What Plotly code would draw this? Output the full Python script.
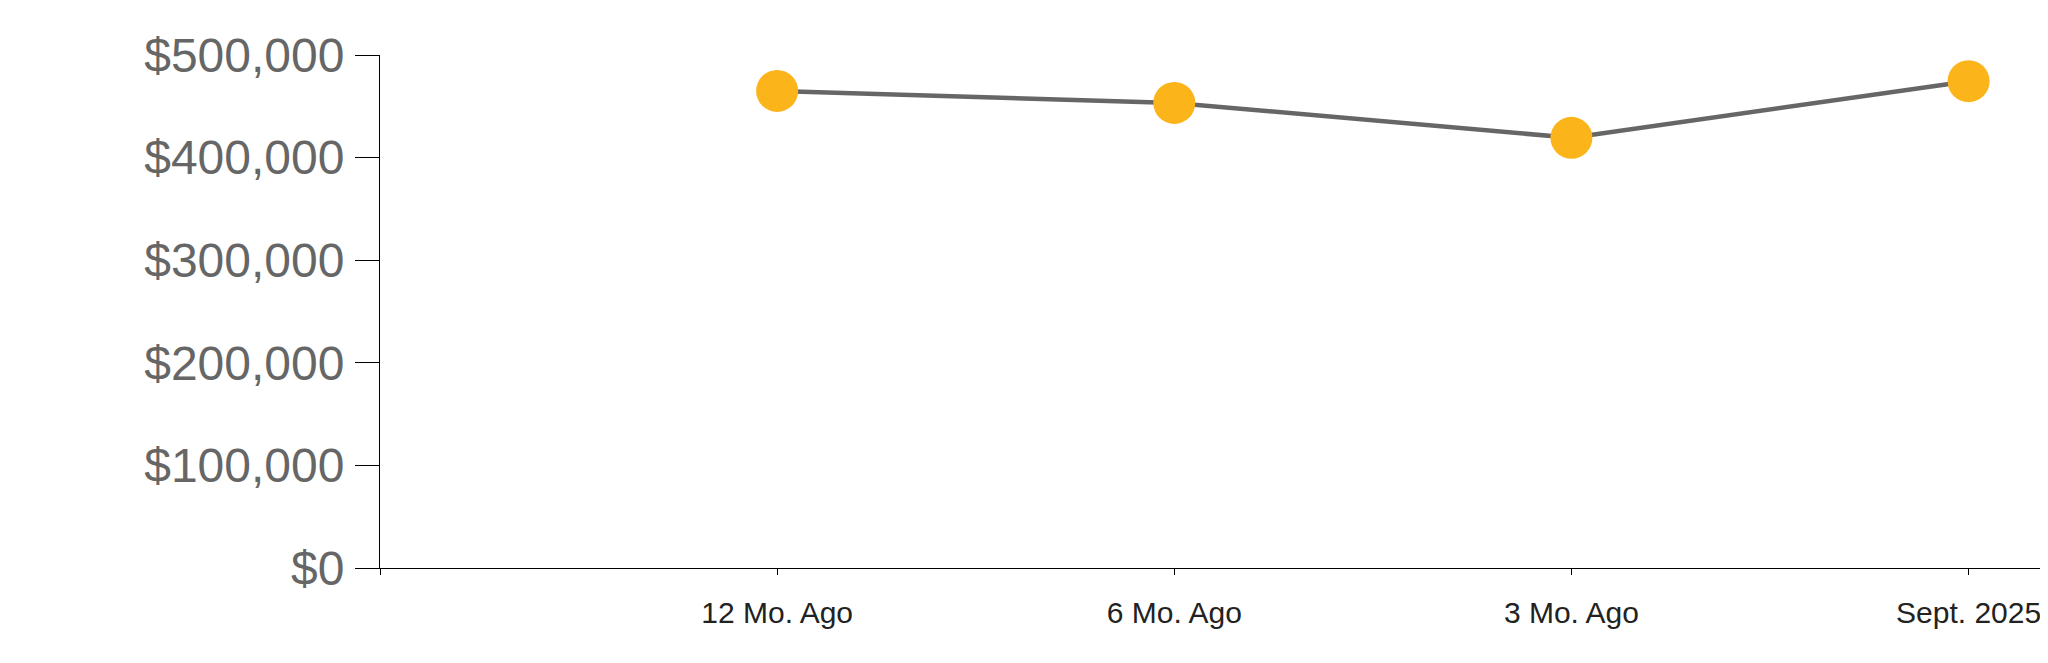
import plotly.graph_objects as go

# period labels and median price values
periods = ["12 Mo. Ago", "6 Mo. Ago", "3 Mo. Ago", "Sept. 2025"]
prices = [465000, 453300, 419300, 474500]
y_ticks = [0, 100000, 200000, 300000, 400000, 500000]
y_labels = [f"${v:,}" for v in y_ticks]

# slot 0 is left empty, the way the original leaves a blank first column
x_pos = list(range(1, len(periods) + 1))

fig = go.Figure()
fig.add_trace(
    go.Scatter(
        x=x_pos,
        y=prices,
        mode="lines+markers",
        line=dict(color="#666666", width=4.5),
        marker=dict(color="#FBB41A", size=42, line=dict(width=0)),
        cliponaxis=False,
        showlegend=False,
        hoverinfo="skip",
    )
)

# the page body has an 8px margin, so the figure is 8px smaller and shifted
fig.update_layout(
    width=2040,
    height=655,
    margin=dict(l=372, r=0, t=47, b=95),
    paper_bgcolor="white",
    plot_bgcolor="white",
    font=dict(family="Arial, Liberation Sans, sans-serif"),
)
fig.update_xaxes(
    range=[0, 4.2],
    tickvals=[0] + x_pos,
    ticktext=[""] + periods,
    automargin=False,
    showgrid=False,
    zeroline=False,
    showline=True,
    linecolor="black",
    linewidth=1,
    ticks="outside",
    ticklen=6,
    tickcolor="black",
    tickfont=dict(size=30, color="#222222"),
    ticklabelstandoff=12,
)
fig.update_yaxes(
    range=[0, 500000],
    tickvals=y_ticks,
    ticktext=y_labels,
    automargin=False,
    showgrid=False,
    zeroline=False,
    showline=True,
    linecolor="black",
    linewidth=1,
    ticks="outside",
    ticklen=24,
    tickcolor="black",
    tickfont=dict(size=48, color="#666666"),
    ticklabelstandoff=1,
)

fig.write_html("out.html")
